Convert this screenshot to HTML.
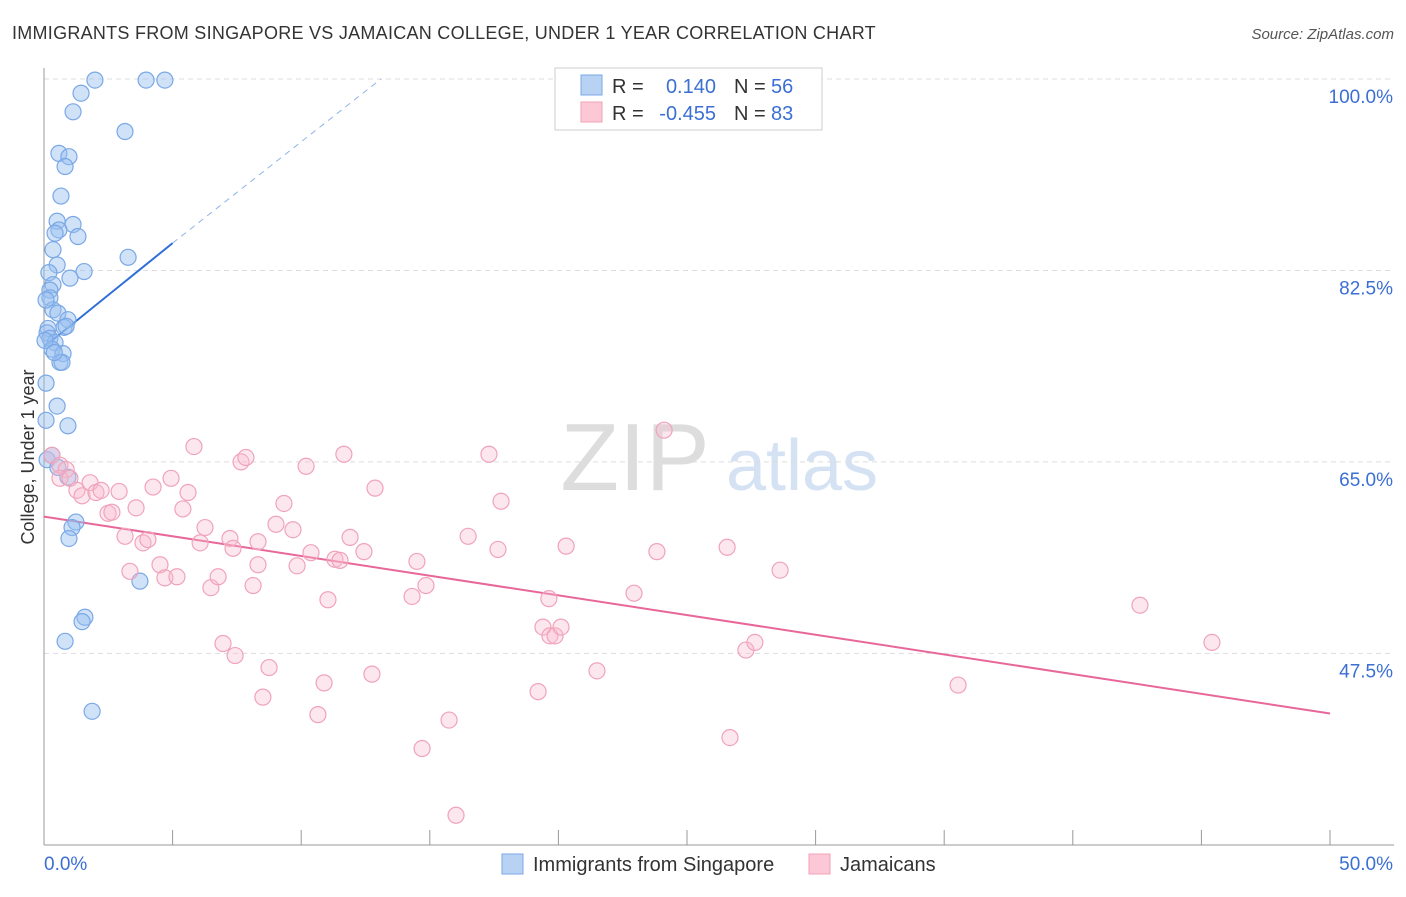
<!DOCTYPE html>
<html><head><meta charset="utf-8"><style>
body{margin:0;background:#fff;font-family:"Liberation Sans",sans-serif;}
svg text{font-family:"Liberation Sans",sans-serif;}
</style></head><body>
<svg id="chart" width="1406" height="892" viewBox="0 0 1406 892" xmlns="http://www.w3.org/2000/svg">
<text x="12" y="39" font-size="18" fill="#333" letter-spacing="0.27">IMMIGRANTS FROM SINGAPORE VS JAMAICAN COLLEGE, UNDER 1 YEAR CORRELATION CHART</text>
<text x="1394" y="39" font-size="15" fill="#555" text-anchor="end" font-style="italic">Source: ZipAtlas.com</text>
<g>
<text x="635" y="490" font-size="96" fill="#ddd" text-anchor="middle" font-family="Liberation Serif">ZIP</text>
<text x="802" y="490" font-size="72" fill="#d4e2f4" text-anchor="middle">atlas</text>
</g>
<g id="grid"></g>
<g id="axes"></g>
<g id="trend"></g>
<g id="points"></g>
<text transform="translate(34,457) rotate(-90)" font-size="18" fill="#333" text-anchor="middle">College, Under 1 year</text>
<g>
<rect x="555" y="68" width="267" height="62" fill="#fff" stroke="#ccc"/>
<rect x="581" y="75" width="21" height="20" fill="#b8d2f4" stroke="#7aa8e6"/>
<rect x="581" y="102" width="21" height="20" fill="#fcc8d6" stroke="#f0a0b8"/>
<text x="612" y="93" font-size="20" fill="#333">R =</text>
<text x="716" y="93" font-size="20" fill="#3b6fd4" text-anchor="end">0.140</text>
<text x="734" y="93" font-size="20" fill="#333">N =</text>
<text x="771" y="93" font-size="20" fill="#3b6fd4">56</text>
<text x="612" y="120" font-size="20" fill="#333">R =</text>
<text x="716" y="120" font-size="20" fill="#3b6fd4" text-anchor="end">-0.455</text>
<text x="734" y="120" font-size="20" fill="#333">N =</text>
<text x="771" y="120" font-size="20" fill="#3b6fd4">83</text>
</g>
<g>
<rect x="502" y="854" width="21" height="20" fill="#b8d2f4" stroke="#7aa8e6"/>
<text x="533" y="871" font-size="20" fill="#333">Immigrants from Singapore</text>
<rect x="809" y="854" width="21" height="20" fill="#fcc8d6" stroke="#f0a0b8"/>
<text x="840" y="871" font-size="20" fill="#333">Jamaicans</text>
</g>
</svg>
<script>
const yTicks=[47.5,65.0,82.5,100.0];
const xTickLabels=["0.0%","50.0%"];
const blueX=[1.98,3.97,4.70,1.44,3.15,1.13,0.58,0.97,0.82,0.66,0.51,1.13,0.58,0.43,1.32,0.35,3.27,0.51,1.56,0.19,1.01,0.35,0.23,0.23,0.35,0.54,0.93,0.78,0.16,0.12,0.23,0.43,0.31,0.74,0.62,0.08,0.51,0.93,0.08,0.12,0.54,0.93,1.24,1.09,0.97,3.73,1.59,1.48,0.82,1.87,0.31,0.70,0.08,0.04,0.86,0.40];
const blueY=[99.9,99.9,99.9,98.7,95.2,97.0,93.2,92.9,92.0,89.3,87.0,86.7,86.2,85.9,85.6,84.4,83.7,83.0,82.4,82.3,81.8,81.2,80.7,80.0,78.9,78.6,78.0,77.3,77.2,76.8,76.3,75.9,75.3,74.9,74.1,72.2,70.1,68.3,68.8,65.2,64.5,63.6,59.5,59.0,58.0,54.1,50.8,50.4,48.6,42.2,65.6,74.1,79.8,76.1,77.4,75.0];
const pinkX=[0.31,0.62,0.86,0.62,1.01,1.28,1.48,1.79,2.02,2.22,2.49,2.64,2.92,3.15,3.34,3.58,3.85,4.04,4.24,4.51,4.70,4.94,5.17,5.40,5.60,5.83,6.07,6.26,6.49,6.77,6.96,7.23,7.43,7.66,7.85,8.13,8.32,8.51,8.75,9.02,9.33,9.68,9.84,10.19,10.38,10.65,10.89,11.04,11.31,11.51,11.66,11.90,12.44,12.75,12.87,14.31,14.50,14.70,14.85,15.75,16.49,17.30,17.65,17.77,19.21,19.40,19.67,19.87,20.10,19.63,20.30,21.50,22.94,23.83,24.11,26.56,26.67,27.29,27.64,28.62,35.54,42.61,45.41,16.02,7.35,8.32];
const pinkY=[65.6,64.7,64.3,63.5,63.5,62.4,61.9,63.1,62.2,62.4,60.3,60.4,62.3,58.2,55.0,60.8,57.6,57.9,62.7,55.6,54.4,63.5,54.5,60.7,62.2,66.4,57.6,59.0,53.5,54.5,48.4,58.0,47.3,65.0,65.4,53.7,55.6,43.5,46.2,59.3,61.2,58.8,55.5,64.6,56.7,41.9,44.8,52.4,56.1,56.0,65.7,58.1,56.8,45.6,62.6,52.7,55.9,38.8,53.7,41.4,58.2,65.7,57.0,61.4,44.0,49.9,49.1,49.1,49.9,52.5,57.3,45.9,53.0,56.8,67.9,57.2,39.8,47.8,48.5,55.1,44.6,51.9,48.5,32.7,57.1,57.7];
const blueTrend=[[0,75.5],[5,85.0]];
const blueDash=[[5,85.0],[13.1,100]];
const pinkTrend=[[0,60.0],[50,42.0]];

const NS="http://www.w3.org/2000/svg";
function xs(v){return 44+v*25.72;}
function ys(v){return 79+(100-v)*10.94;}
function mk(tag,attrs,parent){const e=document.createElementNS(NS,tag);for(const k in attrs)e.setAttribute(k,attrs[k]);parent.appendChild(e);return e;}
const grid=document.getElementById('grid'),axes=document.getElementById('axes'),trend=document.getElementById('trend'),pts=document.getElementById('points');
yTicks.forEach(t=>{
  const l=mk('line',{x1:44,x2:1394,y1:ys(t),y2:ys(t),stroke:'#ddd','stroke-dasharray':'5,4'},grid);
  
  
  const tx=mk('text',{x:1393,y:ys(t)+24,'font-size':19,fill:'#3b6fd4','text-anchor':'end'},axes);
  tx.textContent=t.toFixed(1)+'%';
  
  
});
mk('line',{x1:44,x2:44,y1:68,y2:845,stroke:'#999'},axes);
mk('line',{x1:44,x2:1394,y1:845,y2:845,stroke:'#999'},axes);
for(let i=0;i<=10;i++){mk('line',{x1:xs(i*5),x2:xs(i*5),y1:830,y2:845,stroke:'#999'},axes);}
const xl0=mk('text',{x:44,y:870,'font-size':19,fill:'#3b6fd4'},axes);xl0.textContent=xTickLabels[0];


const xl1=mk('text',{x:1393,y:870,'font-size':19,fill:'#3b6fd4','text-anchor':'end'},axes);xl1.textContent=xTickLabels[1];


blueX.forEach((x,i)=>{
  const c=mk('circle',{cx:xs(x),cy:ys(blueY[i]),r:8,fill:'rgba(150,190,240,0.45)',stroke:'#7aa8e6','stroke-width':1.2},pts);
  
  
});
pinkX.forEach((x,i)=>{
  const c=mk('circle',{cx:xs(x),cy:ys(pinkY[i]),r:8,fill:'rgba(248,185,205,0.35)',stroke:'#f0a3bb','stroke-width':1.2},pts);
  
  
});
const bt=mk('line',{x1:xs(blueTrend[0][0]),y1:ys(blueTrend[0][1]),x2:xs(blueTrend[1][0]),y2:ys(blueTrend[1][1]),stroke:'#2f6fd6','stroke-width':2},trend);


const bd=mk('line',{x1:xs(blueDash[0][0]),y1:ys(blueDash[0][1]),x2:xs(blueDash[1][0]),y2:ys(blueDash[1][1]),stroke:'#8fb3e8','stroke-width':1,'stroke-dasharray':'6,5'},trend);


const pt=mk('line',{x1:xs(pinkTrend[0][0]),y1:ys(pinkTrend[0][1]),x2:xs(pinkTrend[1][0]),y2:ys(pinkTrend[1][1]),stroke:'#e8679a','stroke-width':2},trend);


</script>
</body></html>
